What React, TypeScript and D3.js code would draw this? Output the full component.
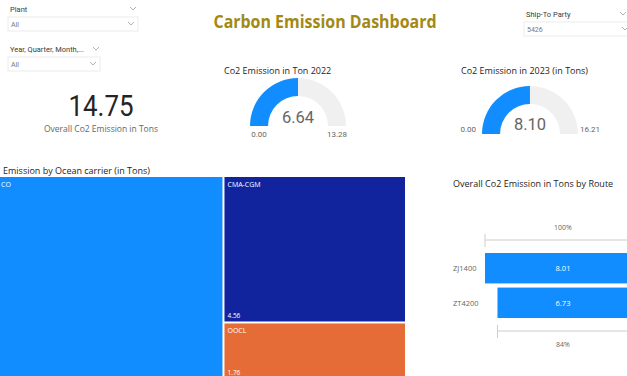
import React from "react";
import * as d3 from "d3";

const carriers = ["CO", "CMA-CGM", "OOCL"];
const carrierValues = [8.43, 4.56, 1.76];
const carrierColors = ["#118DFF", "#12239E", "#E66C37"];

const routes = ["ZJ1400", "ZT4200"];
const routeValues = [8.01, 6.73];
const routePct = ["100%", "84%"];

const gaugeTitles = ["Co2 Emission in Ton 2022", "Co2 Emission in 2023 (in Tons)"];
const gaugeValues = [6.64, 8.1];
const gaugeMax = [13.28, 16.21];

const kpiValue = 14.75;

const FONT = "'Segoe UI', 'Open Sans', Roboto, sans-serif";
const DIN = "Roboto, 'Open Sans', sans-serif";

function Chevron({ x, y }: { x: number; y: number }) {
  return (
    <path
      d={`M${x},${y} L${x + 3},${y + 3} L${x + 6},${y}`}
      fill="none"
      stroke="#a0a0a0"
      strokeWidth={0.8}
    />
  );
}

function Slicer({ label, value, x, y, w, lblChevronX, labelLen }: any) {
  return (
    <g>
      <text x={x + 2} y={y} fontSize={7.5} fill="#3a3a3a" fontFamily={DIN} textLength={labelLen} lengthAdjust="spacingAndGlyphs">
        {label}
      </text>
      <Chevron x={lblChevronX} y={y - 5} />
      <rect x={x} y={y + 5} width={w} height={14} fill="#fff" stroke="#e6e6e6" strokeWidth={0.8} />
      <text x={x + 3} y={y + 15} fontSize={7} fill="#777" fontFamily={DIN}>
        {value}
      </text>
      <Chevron x={x + w - 10} y={y + 10} />
    </g>
  );
}

function Gauge({ cx, cy, r, value, max, title, titleX, titleY, labelMode }: any) {
  const inner = r - 18;
  const ang = d3.scaleLinear().domain([0, max]).range([-Math.PI / 2, Math.PI / 2]);
  const arc = d3.arc<any>().innerRadius(inner).outerRadius(r);
  const bg = arc({ startAngle: ang(0), endAngle: ang(max) }) as string;
  const fg = arc({ startAngle: ang(0), endAngle: ang(value) }) as string;
  return (
    <g>
      <text x={titleX} y={titleY} fontSize={9} fill="#252423" fontFamily={FONT}>
        {title}
      </text>
      <g transform={`translate(${cx},${cy})`}>
        <path d={bg} fill="#F0F0F0" />
        <path d={fg} fill="#118DFF" />
        <text x={0} y={labelMode === "below" ? -3 : -4} textAnchor="middle" fontSize={16.5} fill="#666" fontFamily={DIN}>
          {value.toFixed(2)}
        </text>
        {labelMode === "below" ? (
          <>
            <text x={-(r + inner) / 2} y={11} textAnchor="middle" fontSize={8} fill="#666" fontFamily={DIN}>
              {(0).toFixed(2)}
            </text>
            <text x={(r + inner) / 2} y={11} textAnchor="middle" fontSize={8} fill="#666" fontFamily={DIN}>
              {max.toFixed(2)}
            </text>
          </>
        ) : (
          <>
            <text x={-r - 6} y={-2} textAnchor="end" fontSize={8} fill="#666" fontFamily={DIN}>
              {(0).toFixed(2)}
            </text>
            <text x={r + 2} y={-2} textAnchor="start" fontSize={8} fill="#666" fontFamily={DIN}>
              {max.toFixed(2)}
            </text>
          </>
        )}
      </g>
    </g>
  );
}

export default function App() {
  // Treemap
  const tmX0 = -19,
    tmY0 = 177,
    tmW = 424,
    tmH = 201;
  const root = d3
    .hierarchy<any>({ children: carriers.map((n, i) => ({ name: n, value: carrierValues[i], color: carrierColors[i] })) })
    .sum((d: any) => d.value || 0)
    .sort((a: any, b: any) => (b.value || 0) - (a.value || 0));
  d3.treemap<any>().size([tmW, tmH]).paddingInner(2).tile(d3.treemapSquarify)(root);
  const leaves = root.leaves() as any[];

  // Funnel
  const fCx = 563;
  const fScale = d3.scaleLinear().domain([0, routeValues[0]]).range([0, 156]);
  const fBand = d3.scaleBand().domain(routes).range([253, 318]).paddingInner(0.12);

  return (
    <svg
      width={627}
      height={376}
      style={{ position: "absolute", left: 0, top: 0, background: "#fff" }}
    >
      <rect x={0} y={0} width={627} height={376} fill="#fff" />

      {/* Slicers */}
      <Slicer label="Plant" value="All" x={8} y={12} w={130} lblChevronX={130} />
      <Slicer label="Year, Quarter, Month,..." value="All" x={8} y={52} w={92} lblChevronX={93} labelLen={74} />
      <Slicer label="Ship-To Party" value="5426" x={524} y={17} w={108} lblChevronX={620} />

      {/* Title */}
      <text x={325} y={28} textAnchor="middle" fontSize={17} fontWeight="bold" fill="#A38914" fontFamily={FONT} textLength={223} lengthAdjust="spacingAndGlyphs">
        Carbon Emission Dashboard
      </text>

      {/* KPI */}
      <text x={101} y={116} textAnchor="middle" fontSize={30} fill="#252423" fontFamily={DIN} textLength={65} lengthAdjust="spacingAndGlyphs">
        {kpiValue.toFixed(2)}
      </text>
      <text x={101} y={132} textAnchor="middle" fontSize={8.5} fill="#666" fontFamily={FONT}>
        Overall Co2 Emission in Tons
      </text>

      {/* Gauges */}
      <Gauge cx={298} cy={126} r={48} value={gaugeValues[0]} max={gaugeMax[0]} title={gaugeTitles[0]} titleX={224} titleY={74} labelMode="below" />
      <Gauge cx={530} cy={134} r={48} value={gaugeValues[1]} max={gaugeMax[1]} title={gaugeTitles[1]} titleX={461} titleY={74} labelMode="side" />

      {/* Treemap */}
      <text x={3} y={174} fontSize={9} fill="#252423" fontFamily={FONT}>
        Emission by Ocean carrier (in Tons)
      </text>
      <g transform={`translate(${tmX0},${tmY0})`}>
        {leaves.map((l, i) => (
          <g key={i}>
            <rect x={l.x0} y={l.y0} width={l.x1 - l.x0} height={l.y1 - l.y0} fill={l.data.color} />
            <text x={Math.max(l.x0 + 3, 1 - tmX0)} y={l.y0 + 10} fontSize={7} fill="#fff" fontFamily={FONT}>
              {l.data.name}
            </text>
            {l.x0 + tmX0 >= 0 && (
              <text x={l.x0 + 3} y={l.y1 - 3} fontSize={6.5} fill="#fff" fontFamily={FONT}>
                {l.data.value.toFixed(2)}
              </text>
            )}
          </g>
        ))}
      </g>

      {/* Funnel */}
      <text x={453} y={187} fontSize={9} fill="#252423" fontFamily={FONT}>
        Overall Co2 Emission in Tons by Route
      </text>
      <text x={fCx} y={230} textAnchor="middle" fontSize={7} fill="#666" fontFamily={FONT}>
        {routePct[0]}
      </text>
      <line x1={fCx - fScale(routeValues[0]) / 2} x2={640} y1={240} y2={240} stroke="#ccc" strokeWidth={1} />
      <line x1={fCx - fScale(routeValues[0]) / 2} x2={fCx - fScale(routeValues[0]) / 2} y1={234} y2={247} stroke="#ccc" strokeWidth={1} />
      {routes.map((r, i) => {
        const w = fScale(routeValues[i]);
        const y = fBand(r)!;
        const h = fBand.bandwidth();
        return (
          <g key={r}>
            <rect x={fCx - w / 2} y={y} width={w} height={h} fill="#118DFF" />
            <text x={fCx} y={y + h / 2 + 3} textAnchor="middle" fontSize={7.5} fill="#fff" fontFamily={FONT}>
              {routeValues[i].toFixed(2)}
            </text>
            <text x={453} y={y + h / 2 + 3} fontSize={7.5} fill="#666" fontFamily={FONT}>
              {r}
            </text>
          </g>
        );
      })}
      <line x1={fCx - fScale(routeValues[1]) / 2} x2={640} y1={331} y2={331} stroke="#ccc" strokeWidth={1} />
      <line x1={fCx - fScale(routeValues[1]) / 2} x2={fCx - fScale(routeValues[1]) / 2} y1={325} y2={338} stroke="#ccc" strokeWidth={1} />
      <text x={fCx} y={347} textAnchor="middle" fontSize={7} fill="#666" fontFamily={FONT}>
        {routePct[1]}
      </text>
    </svg>
  );
}
